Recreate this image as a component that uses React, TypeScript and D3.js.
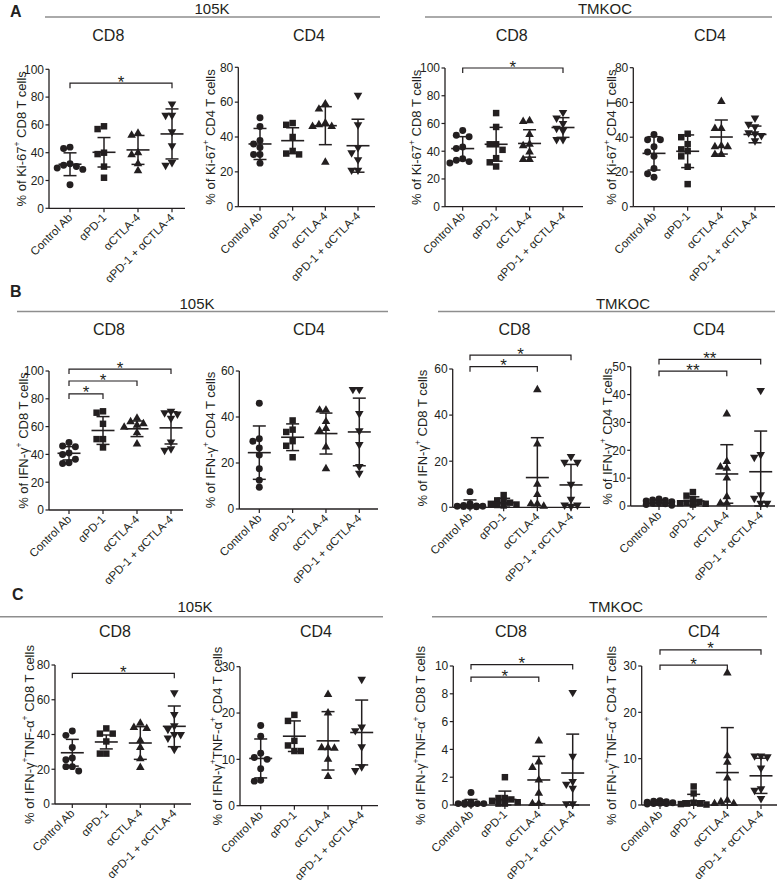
import React from "react";
import * as d3 from "d3";

const groups = ["Control Ab", "αPD-1", "αCTLA-4", "αPD-1 + αCTLA-4"];

// A: Ki-67+ (105K, TMKOC)
const ki67Cd8K = [
  [43, 44, 31, 30, 32, 29, 28, 17],
  [59, 57, 40, 39, 30, 22],
  [54, 52.5, 40, 38.5, 32, 27],
  [75, 67, 67, 55, 45, 31, 33],
];
const ki67Cd8KMean = [31.7, 40.3, 42, 53.5];
const ki67Cd8KSd = [8.2, 10.6, 10.4, 18];
const ki67Cd8KSig = [[0, 3, 90, "*"]];

const ki67Cd4K = [
  [51, 46, 38, 36, 34, 30, 30, 25],
  [47, 48, 40, 30, 30.5, 32],
  [59, 56, 47, 46, 46, 48, 25.5],
  [64, 47, 34, 27, 21, 21, 31],
];
const ki67Cd4KMean = [36, 37.9, 46.5, 35];
const ki67Cd4KSd = [8.9, 7.4, 10.9, 15.2];

const ki67Cd8T = [
  [55, 51.5, 50.5, 43, 42, 34.5, 32.5, 33.5, 31.5],
  [67.5, 57.5, 45, 45, 41, 35, 29, 32],
  [61.5, 62, 52, 45, 44, 39.5, 34, 34],
  [68, 64, 60, 56.5, 55, 48.5, 48.5],
];
const ki67Cd8TMean = [41.9, 45, 45.6, 57.1];
const ki67Cd8TSd = [8.6, 12.2, 9.9, 7.1];
const ki67Cd8TSig = [[0, 3, 100, "*"]];

const ki67Cd4T = [
  [38.5, 41.5, 38.5, 34.5, 31.5, 29, 22, 17, 19],
  [42, 40, 36, 33, 32, 29, 23, 13],
  [60.5, 45, 45, 35, 34.5, 34.5, 30, 30],
  [51, 47.5, 46, 42.5, 42, 41, 38],
];
const ki67Cd4TMean = [30.7, 31.9, 40.1, 41.6];
const ki67Cd4TSd = [9.6, 9.4, 9.8, 4.8];

// B: IFN-γ+
const ifnCd8K = [
  [46, 45.5, 48.5, 40, 41, 36.5, 33.5, 34],
  [70, 71, 62, 51, 51, 45],
  [66, 63.5, 62, 61, 59.5, 55.5, 47.5],
  [71, 70, 69, 66, 49, 44, 43],
];
const ifnCd8KMean = [40.8, 57.2, 58.4, 59.1];
const ifnCd8KSd = [4.8, 10, 5.6, 11.6];
const ifnCd8KSig = [[0, 1, 83.5, "*"], [0, 2, 92.8, "*"], [0, 3, 101.4, "*"]];

const ifnCd4K = [
  [46, 30.5, 29.5, 26.5, 23.5, 17.5, 12.5, 9.5],
  [38.5, 34.5, 33.5, 29.5, 22.5, 27.5],
  [43, 43, 38, 35, 34, 27, 17.5],
  [52, 52, 41.5, 34, 28, 18.5, 15.5],
];
const ifnCd4KMean = [24.5, 31.2, 32.8, 33.5];
const ifnCd4KSd = [11.6, 5.8, 8.9, 14.7];

const ifnCd8T = [
  [6.8, 1.5, 0.5, 0.3, 0.8, 0.5, 0.2, 0.4, 0.6],
  [5.3, 3, 2.5, 1.5, 1, 0.8, 2, 1.2],
  [51, 27.5, 10, 5.5, 1.5, 1.5, 0.5],
  [22, 19.5, 19.5, 10, 3.5, 1, 1, 0.5],
];
const ifnCd8TMean = [1, 2, 12.9, 9.7];
const ifnCd8TSd = [2.2, 1.9, 17.3, 8.9];
const ifnCd8TSig = [[0, 2, 61, "*"], [0, 3, 66, "*"]];

const ifnCd4T = [
  [2.5, 2.2, 1.8, 1.5, 1.2, 1, 0.8, 0.5, 0.3, 2],
  [5, 3.7, 2.5, 1.5, 1, 0.5, 1.2, 0.8],
  [33, 16, 13.5, 14, 10, 3.3, 1, 1],
  [41.5, 18.5, 17.5, 4, 2.8, 1, 1],
];
const ifnCd4TMean = [1, 1.8, 11.5, 12.3];
const ifnCd4TSd = [1.2, 1.5, 10.5, 14.6];
const ifnCd4TSig = [[0, 2, 48.4, "**"], [0, 3, 52.6, "**"]];

// C: IFN-γ+TNF-α+
const dpCd8K = [
  [42, 39.5, 32.5, 26.5, 25.5, 21.5, 21.5, 19],
  [43.5, 40.5, 40.5, 36, 29, 29],
  [46.5, 44, 43.5, 36.5, 32.5, 26, 21],
  [64, 51.5, 45, 43, 40, 40, 38, 31.5],
];
const dpCd8KMean = [29.5, 35.7, 35.1, 44.7];
const dpCd8KSd = [7.7, 4, 9.4, 11.7];
const dpCd8KSig = [[0, 3, 75.2, "*"]];

const dpCd4K = [
  [17.3, 15, 10.4, 10, 11.3, 8, 5.3, 5.5],
  [19.6, 18.3, 14, 13, 11.8, 11.8],
  [24, 20, 12.5, 12.5, 12.4, 10, 6.3],
  [27.3, 17, 16.2, 12.7, 8.4, 7.6],
];
const dpCd4KMean = [10.2, 15, 14, 15.8];
const dpCd4KSd = [4.2, 3.3, 6.3, 7];

const dpCd8T = [
  [0.9, 0.2, 0.1, 0.05, 0.1, 0.15, 0.05, 0.1],
  [2, 0.5, 0.4, 0.3, 0.2, 0.1, 0.1, 0.5],
  [4.6, 3.1, 2.7, 1.8, 0.85, 0.1, 0.1],
  [8.1, 3.5, 1.7, 1.5, 1.2, 0.1, 0.1],
];
const dpCd8TMean = [0.1, 0.4, 1.8, 2.3];
const dpCd8TSd = [0.3, 0.6, 1.7, 2.8];
const dpCd8TSig = [[0, 2, 9.2, "*"], [0, 3, 10.1, "*"]];

const dpCd4T = [
  [0.9, 0.7, 0.5, 0.4, 0.3, 0.6, 0.2, 0.8, 0.3],
  [4, 2.5, 0.5, 0.3, 0.2, 0.1, 0.3],
  [28.5, 10.6, 9.2, 5.8, 1, 0.7, 0.3, 0.3],
  [10.6, 10.4, 10.6, 8, 3.5, 3.2, 1.4],
];
const dpCd4TMean = [0.5, 0.9, 7, 6.3];
const dpCd4TSd = [0.6, 1.4, 9.7, 3.8];
const dpCd4TSig = [[0, 2, 30.2, "*"], [0, 3, 33.5, "*"]];

const labKi = [["% of Ki-67", 0], ["+", 1]];
const labIfn = [["% of IFN-γ", 0], ["+", 1]];
const labDp = [["% of IFN-γ", 0], ["+", 1], ["TNF-α", 0], ["+", 1]];

const FONT = "'Liberation Sans', Arial, Helvetica, sans-serif";
const INK = "#231f20";

// layout of each small plot
const panels = [
  { pts: ki67Cd8K, mean: ki67Cd8KMean, sd: ki67Cd8KSd, sig: ki67Cd8KSig, yMax: 100, step: 20, title: "CD8", lab: labKi, cell: "CD8", ax: 49, top: 69.3, bot: 208.3, c0: 70, c1: 172, end: 185, labX: 21, tx: 108.3, ty: 40.7 },
  { pts: ki67Cd4K, mean: ki67Cd4KMean, sd: ki67Cd4KSd, sig: [], yMax: 80, step: 20, title: "CD4", lab: labKi, cell: "CD4", ax: 238.3, top: 67.3, bot: 206.7, c0: 260, c1: 358, end: 375, labX: 210, tx: 309, ty: 40.7 },
  { pts: ki67Cd8T, mean: ki67Cd8TMean, sd: ki67Cd8TSd, sig: ki67Cd8TSig, yMax: 100, step: 20, title: "CD8", lab: labKi, cell: "CD8", ax: 445, top: 68, bot: 206.7, c0: 462.7, c1: 563, end: 583, labX: 416, tx: 511.7, ty: 40.7 },
  { pts: ki67Cd4T, mean: ki67Cd4TMean, sd: ki67Cd4TSd, sig: [], yMax: 80, step: 20, title: "CD4", lab: labKi, cell: "CD4", ax: 633.3, top: 67.7, bot: 206.7, c0: 654, c1: 755, end: 775, labX: 611, tx: 710, ty: 40.7 },
  { pts: ifnCd8K, mean: ifnCd8KMean, sd: ifnCd8KSd, sig: ifnCd8KSig, yMax: 100, step: 20, title: "CD8", lab: labIfn, cell: "CD8", ax: 49, top: 371, bot: 510, c0: 69, c1: 171, end: 183, labX: 23, tx: 109, ty: 335 },
  { pts: ifnCd4K, mean: ifnCd4KMean, sd: ifnCd4KSd, sig: [], yMax: 60, step: 20, title: "CD4", lab: labIfn, cell: "CD4", ax: 239.3, top: 371, bot: 509, c0: 259.3, c1: 359.3, end: 378, labX: 210, tx: 309, ty: 335 },
  { pts: ifnCd8T, mean: ifnCd8TMean, sd: ifnCd8TSd, sig: ifnCd8TSig, yMax: 60, step: 20, title: "CD8", lab: labIfn, cell: "CD8", ax: 452.7, top: 369, bot: 507.3, c0: 470, c1: 571, end: 590, labX: 422, tx: 514.5, ty: 335 },
  { pts: ifnCd4T, mean: ifnCd4TMean, sd: ifnCd4TSd, sig: ifnCd4TSig, yMax: 50, step: 10, title: "CD4", lab: labIfn, cell: "CD4", ax: 630.7, top: 366.7, bot: 506, c0: 659, c1: 760.7, end: 775, labX: 607, tx: 709, ty: 335 },
  { pts: dpCd8K, mean: dpCd8KMean, sd: dpCd8KSd, sig: dpCd8KSig, yMax: 80, step: 20, title: "CD8", lab: labDp, cell: "CD8", ax: 55, top: 665, bot: 804, c0: 72.3, c1: 174.3, end: 191, labX: 29, tx: 115, ty: 637 },
  { pts: dpCd4K, mean: dpCd4KMean, sd: dpCd4KSd, sig: [], yMax: 30, step: 10, title: "CD4", lab: labDp, cell: "CD4", ax: 240, top: 666.7, bot: 805.7, c0: 260.7, c1: 361.7, end: 378, labX: 217, tx: 316, ty: 637 },
  { pts: dpCd8T, mean: dpCd8TMean, sd: dpCd8TSd, sig: dpCd8TSig, yMax: 10, step: 2, title: "CD8", lab: labDp, cell: "CD8", ax: 453.3, top: 666, bot: 805, c0: 471, c1: 572.7, end: 590, labX: 420, tx: 511, ty: 637 },
  { pts: dpCd4T, mean: dpCd4TMean, sd: dpCd4TSd, sig: dpCd4TSig, yMax: 30, step: 10, title: "CD4", lab: labDp, cell: "CD4", ax: 641.7, top: 666, bot: 805, c0: 660, c1: 761, end: 777, labX: 611, tx: 704, ty: 637 },
];

const headers = [
  { text: "105K", x: 212, y: 13.5, x0: 45, x1: 380, ly: 17 },
  { text: "TMKOC", x: 605, y: 13.5, x0: 425, x1: 772, ly: 17 },
  { text: "105K", x: 197, y: 308.5, x0: 17, x1: 388, ly: 311.5 },
  { text: "TMKOC", x: 623, y: 308.5, x0: 438, x1: 775, ly: 311.5 },
  { text: "105K", x: 195, y: 612, x0: 0, x1: 383, ly: 616.7 },
  { text: "TMKOC", x: 616, y: 611.7, x0: 432, x1: 767, ly: 616.7 },
];

const letters = [
  { t: "A", x: 10, y: 17 },
  { t: "B", x: 10, y: 296.7 },
  { t: "C", x: 12, y: 600 },
];

const symbols = [
  d3.symbol(d3.symbolCircle, 38)(),
  d3.symbol(d3.symbolSquare, 42)(),
  d3.symbol(d3.symbolTriangle, 32)(),
  d3.symbol(d3.symbolTriangle, 32)(),
];

// simple beeswarm: spread points that sit close in y
function swarm(ys: number[], step = 6.4) {
  const order = ys.map((_, i) => i).sort((a, b) => ys[a] - ys[b]);
  const placed: { x: number; y: number }[] = [];
  const out = new Array(ys.length).fill(0);
  const cands = [0, -1, 1, -2, 2];
  order.forEach((i) => {
    let best = 0, bestD = -1;
    for (const k of cands) {
      const x = k * step;
      let m = Infinity;
      placed.forEach((p) => { m = Math.min(m, Math.hypot(p.x - x, p.y - ys[i])); });
      if (m >= step) { best = x; bestD = m; break; }
      if (m > bestD) { bestD = m; best = x; }
    }
    out[i] = best;
    placed.push({ x: best, y: ys[i] });
  });
  return out;
}

function Panel({ p }: { p: any }) {
  const y = d3.scaleLinear().domain([0, p.yMax]).range([p.bot, p.top]);
  const x = d3.scalePoint().domain(groups).range([p.c0, p.c1]);
  const ticks = d3.range(0, p.yMax + p.step / 2, p.step);
  const mid = (p.top + p.bot) / 2;
  const clampY = (v: number) => y(Math.max(0, Math.min(p.yMax, v)));
  return (
    <g>
      <text x={p.tx} y={p.ty} textAnchor="middle" fontSize={16}>{p.title}</text>
      <text transform={`translate(${p.labX},${mid}) rotate(-90)`} textAnchor="middle" dominantBaseline="central" fontSize={13}>
        {p.lab.map((s: any, i: number) => (
          <tspan key={i} fontSize={s[1] ? 8.5 : 13} dy={s[1] ? -4.5 : i > 0 ? 4.5 : 0}>{s[0]}</tspan>
        ))}
        <tspan dy={4.5}>{` ${p.cell} T cells`}</tspan>
      </text>
      <line x1={p.ax} x2={p.ax} y1={p.top} y2={p.bot} stroke={INK} strokeWidth={1.3} />
      <line x1={p.ax} x2={p.end} y1={p.bot} y2={p.bot} stroke={INK} strokeWidth={1.3} />
      {ticks.map((t) => (
        <g key={t}>
          <line x1={p.ax - 3.5} x2={p.ax} y1={y(t)} y2={y(t)} stroke={INK} strokeWidth={1.2} />
          <text x={p.ax - 5} y={y(t)} dy="0.36em" textAnchor="end" fontSize={12}>{t}</text>
        </g>
      ))}
      {groups.map((g, gi) => {
        const cx = x(g) as number;
        const vals: number[] = p.pts[gi];
        const ys = vals.map((v) => y(v));
        const offs = swarm(ys);
        const m = p.mean[gi], s = p.sd[gi];
        const yHi = clampY(m + s), yLo = clampY(m - s);
        return (
          <g key={g}>
            <line x1={cx} x2={cx} y1={p.bot} y2={p.bot + 4} stroke={INK} strokeWidth={1.2} />
            <text transform={`translate(${cx + 3},${p.bot + 10}) rotate(-45)`} textAnchor="end" fontSize={11.5}>{g}</text>
            {vals.map((v, i) => (
              <path key={i} d={symbols[gi] as string} fill={INK}
                transform={`translate(${cx + offs[i]},${ys[i]})${gi === 3 ? " rotate(180)" : ""}`} />
            ))}
            <line x1={cx} x2={cx} y1={yHi} y2={yLo} stroke={INK} strokeWidth={1.5} />
            <line x1={cx - 6.5} x2={cx + 6.5} y1={yHi} y2={yHi} stroke={INK} strokeWidth={1.5} />
            <line x1={cx - 6.5} x2={cx + 6.5} y1={yLo} y2={yLo} stroke={INK} strokeWidth={1.5} />
            <line x1={cx - 11.5} x2={cx + 11.5} y1={y(m)} y2={y(m)} stroke={INK} strokeWidth={1.6} />
          </g>
        );
      })}
      {p.sig.map((s: any, i: number) => {
        const x0 = x(groups[s[0]]) as number, x1 = x(groups[s[1]]) as number, yy = y(s[2]);
        return (
          <g key={i}>
            <path d={`M${x0},${yy + 5}V${yy}H${x1}V${yy + 5}`} fill="none" stroke={INK} strokeWidth={1.2} />
            <text x={(x0 + x1) / 2} y={yy + 4.5} textAnchor="middle" fontSize={17}>{s[3]}</text>
          </g>
        );
      })}
    </g>
  );
}

export default function App() {
  return (
    <svg width={781} height={885} style={{ position: "absolute", left: 0, top: 0, background: "#fff" }}
      fontFamily={FONT} fill={INK}>
      <rect width={781} height={885} fill="#fff" />
      {letters.map((l) => (
        <text key={l.t} x={l.x} y={l.y} fontSize={16} fontWeight="bold">{l.t}</text>
      ))}
      {headers.map((h, i) => (
        <g key={i}>
          <text x={h.x} y={h.y} textAnchor="middle" fontSize={15}>{h.text}</text>
          <line x1={h.x0} x2={h.x1} y1={h.ly} y2={h.ly} stroke="#8e8e8e" strokeWidth={1.5} />
        </g>
      ))}
      {panels.map((p, i) => <Panel key={i} p={p} />)}
    </svg>
  );
}
